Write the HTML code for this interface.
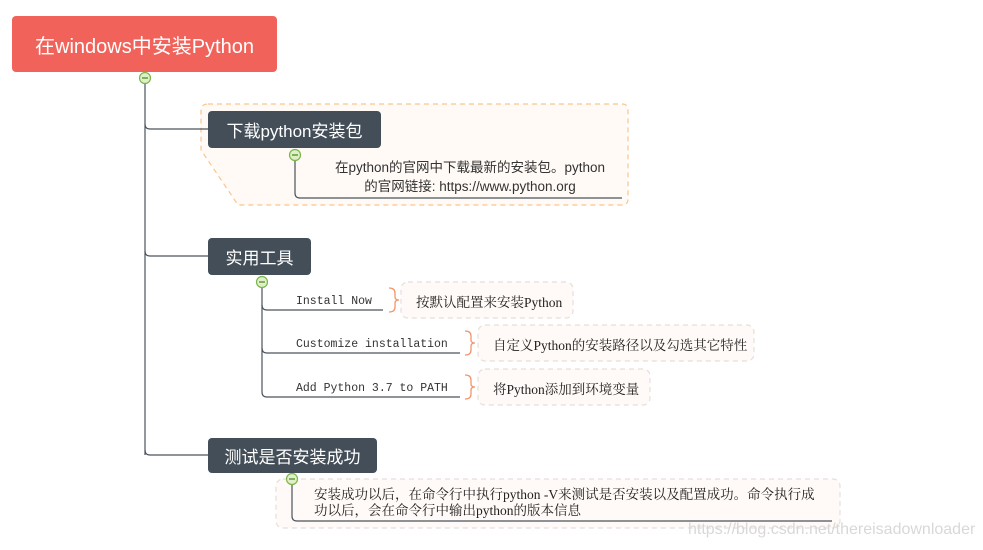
<!DOCTYPE html>
<html><head><meta charset="utf-8"><style>
body{margin:0;width:983px;height:550px;background:#fff;position:relative;overflow:hidden;font-family:"Liberation Sans","Noto Sans CJK SC",sans-serif}
.a{position:absolute;white-space:nowrap}
.box{position:absolute;color:#fff;border-radius:4px;display:flex;align-items:center;justify-content:center}
.mono{font-family:"Liberation Mono","Noto Sans CJK SC",monospace;font-size:11.5px;color:#333}
.serif{font-family:"Liberation Serif","Noto Serif CJK SC",serif;font-size:13.5px;color:#222}
</style></head><body>
<svg class="a" style="left:0;top:0" width="983" height="550">
<g fill="#fffaf6" stroke="#f9c58d" stroke-width="1.2" stroke-dasharray="5,4">
<path d="M208,104 H622 Q628,104 628,110 V199 Q628,205 622,205 H238 L201,150 V111 Q201,104 208,104 Z"/>
</g>
<g fill="#fffaf7" stroke="#e6dedb" stroke-width="1.2" stroke-dasharray="5,4">
<rect x="401" y="282" width="172" height="36" rx="7"/>
<rect x="478" y="325" width="276" height="36" rx="7"/>
<rect x="478" y="369" width="172" height="36" rx="7"/>
<rect x="276" y="479" width="564" height="49" rx="7"/>
</g>
<g fill="none" stroke="#4b535b" stroke-width="1.2">
<path d="M145,84 V455"/>
<path d="M145,124 Q145,129 150,129 H208"/>
<path d="M145,251 Q145,256 150,256 H208"/>
<path d="M145,450 Q145,455 150,455 H208"/>
<path d="M295,161 V193 Q295,198 300,198 H622"/>
<path d="M262,288 V392 Q262,397 267,397 H460"/>
<path d="M262,305 Q262,310 267,310 H383"/>
<path d="M262,348 Q262,353 267,353 H460"/>
<path d="M292,485 V516 Q292,521 297,521 H832"/>
</g>
<g fill="none" stroke="#f4946a" stroke-width="1.3">
<path d="M389,288 Q395,288 395,293 V297 Q395,300 399,300 Q395,300 395,303 V307 Q395,312 389,312"/>
<path d="M465,331 Q471,331 471,336 V340 Q471,343 475,343 Q471,343 471,346 V350 Q471,355 465,355"/>
<path d="M465,375 Q471,375 471,380 V384 Q471,387 475,387 Q471,387 471,390 V394 Q471,399 465,399"/>
</g>
<g fill="#dff0c8" stroke="#7ab648" stroke-width="1.2">
<circle cx="145" cy="78" r="5.5"/><circle cx="295" cy="155" r="5.5"/>
<circle cx="262" cy="282" r="5.5"/><circle cx="292" cy="479" r="5.5"/>
</g>
<g stroke="#4a8a1e" stroke-width="1.3">
<path d="M142,78H148M292,155H298M259,282H265M289,479H295"/>
</g>
</svg>
<div class="box" style="left:12px;top:16px;width:265px;height:56px;background:#f1635a;font-size:20px">在windows中安装Python</div>
<div class="box" style="left:208px;top:111px;width:173px;height:37px;background:#434e58;font-size:17px">下载python安装包</div>
<div class="box" style="left:208px;top:238px;width:103px;height:37px;background:#434e58;font-size:17px">实用工具</div>
<div class="box" style="left:208px;top:438px;width:169px;height:35px;background:#434e58;font-size:17px">测试是否安装成功</div>
<div class="a" style="left:315px;top:158px;width:310px;text-align:center;font-size:13.5px;color:#333;line-height:19px;white-space:normal">在python的官网中下载最新的安装包。python<br>的官网链接: https://www.python.org</div>
<div class="a mono" style="left:296px;top:295px">Install Now</div>
<div class="a mono" style="left:296px;top:338px">Customize installation</div>
<div class="a mono" style="left:296px;top:382px">Add Python 3.7 to PATH</div>
<div class="a serif" style="left:416px;top:291px">按默认配置来安装Python</div>
<div class="a serif" style="left:493px;top:334px">自定义Python的安装路径以及勾选其它特性</div>
<div class="a serif" style="left:493px;top:378px">将Python添加到环境变量</div>
<div class="a serif" style="left:314px;top:487px;line-height:16px">安装成功以后，在命令行中执行python -V来测试是否安装以及配置成功。命令执行成<br>功以后，会在命令行中输出python的版本信息</div>
<div class="a" style="left:688px;top:521px;font-size:16px;color:#d8d8d8">https://blog.csdn.net/thereisadownloader</div>
</body></html>
